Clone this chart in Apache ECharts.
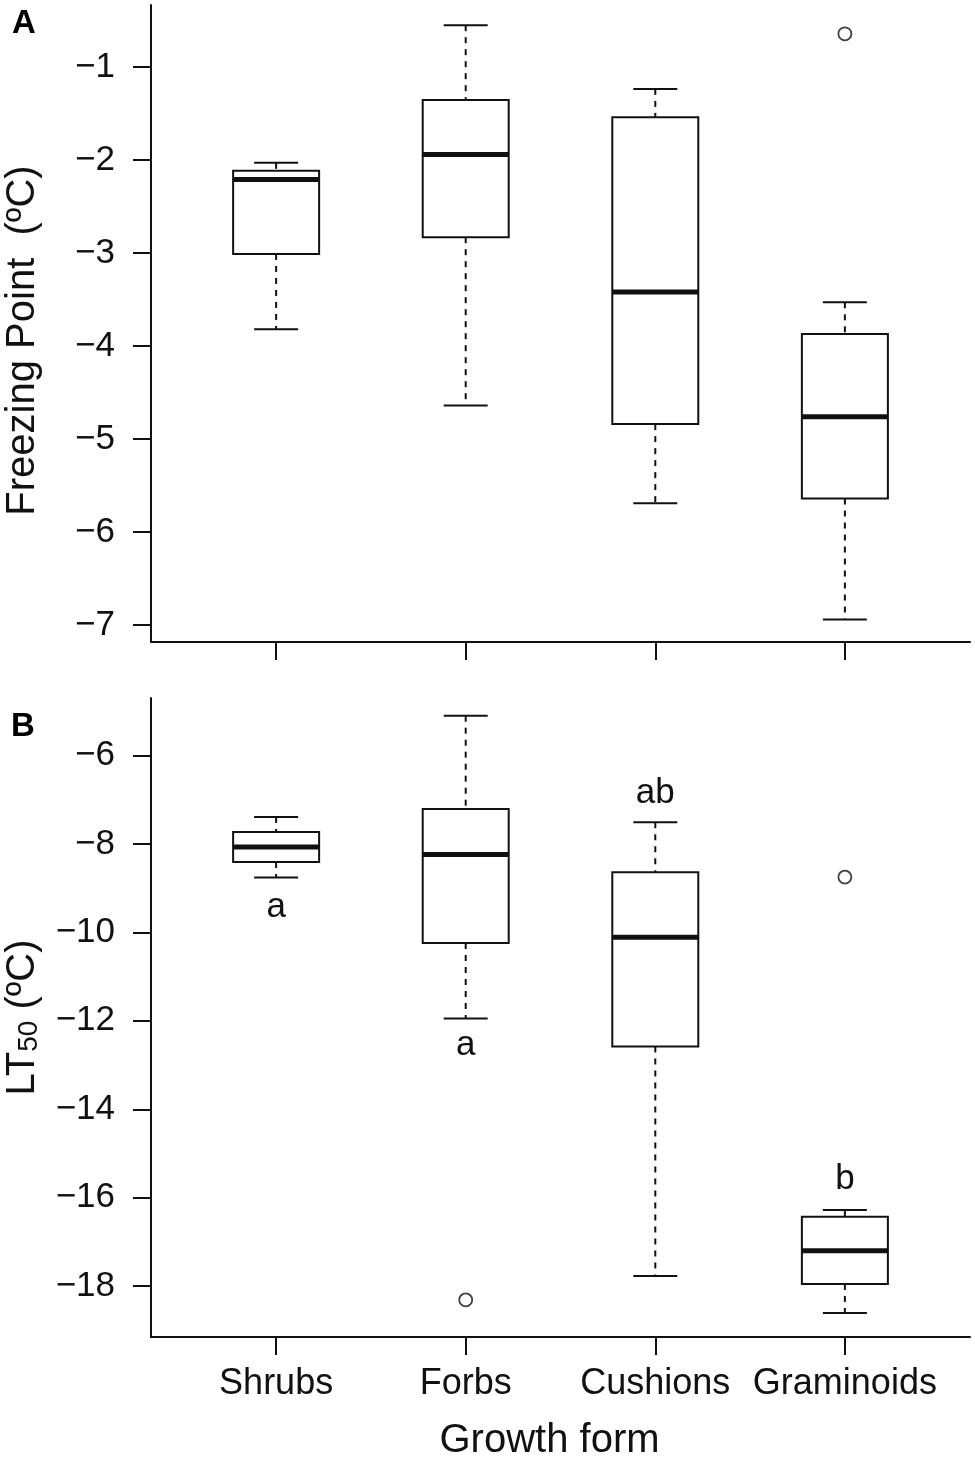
<!DOCTYPE html>
<html><head><meta charset="utf-8">
<script src="https://cdn.jsdelivr.net/npm/echarts@6/dist/echarts.min.js"></script>
<style>html,body{margin:0;padding:0;background:#fff}#c{width:975px;height:1464px}</style>
</head><body><div id="c"></div>
<script>
const categories = ['Shrubs', 'Forbs', 'Cushions', 'Graminoids'];

// Panel A: Freezing point (ºC) — boxplot statistics per growth form
const fpMin    = [-3.82, -4.64, -5.69, -6.94];
const fpQ1     = [-3.01, -2.83, -4.84, -5.64];
const fpMedian = [-2.21, -1.94, -3.42, -4.76];
const fpQ3     = [-2.115, -1.355, -1.54, -3.87];
const fpMax    = [-2.03, -0.55, -1.235, -3.53];
const fpOutliers = [[4, -0.643]];            // [group number, value]
const fpTicks = [-7, -6, -5, -4, -3, -2, -1];

// Panel B: LT50 (ºC)
const ltMin    = [-8.76, -11.95, -17.77, -18.61];
const ltQ1     = [-8.41, -10.24, -12.58, -17.95];
const ltMedian = [-8.07, -8.24, -10.11, -17.20];
const ltQ3     = [-7.73, -7.21, -8.64, -16.43];
const ltMax    = [-7.39, -5.10, -7.51, -16.28];
const ltOutliers = [[2, -18.31], [4, -8.75]]; // [group number, value]
const ltTicks = [-18, -16, -14, -12, -10, -8, -6];

// significance letters (panel B) and the value they are written at
const sigLetters = ['a', 'a', 'ab', 'b'];
const sigLetterY = [-9.43, -12.56, -6.85, -15.58];

const groupPos = [1, 2, 3, 4];

const FONT = '"Liberation Sans", Arial, Helvetica, sans-serif';
const INK = '#111';

function boxData(mn, q1, md, q3, mx) {
  return categories.map((c, i) => [groupPos[i], mn[i], q1[i], md[i], q3[i], mx[i]]);
}

function renderBox(params, api) {
  const x = api.value(0);
  const pMin = api.coord([x, api.value(1)]);
  const pQ1 = api.coord([x, api.value(2)]);
  const pMed = api.coord([x, api.value(3)]);
  const pQ3 = api.coord([x, api.value(4)]);
  const pMax = api.coord([x, api.value(5)]);
  const cx = pMed[0];
  const hw = 43, cw = 22;
  const dashed = { stroke: INK, lineWidth: 2, lineDash: [6, 6], fill: null };
  const solid = { stroke: INK, lineWidth: 2, fill: null };
  return {
    type: 'group',
    children: [
      { type: 'line', shape: { x1: cx, y1: pMax[1], x2: cx, y2: pQ3[1] }, style: dashed },
      { type: 'line', shape: { x1: cx, y1: pQ1[1], x2: cx, y2: pMin[1] }, style: dashed },
      { type: 'line', shape: { x1: cx - cw, y1: pMax[1], x2: cx + cw, y2: pMax[1] }, style: solid },
      { type: 'line', shape: { x1: cx - cw, y1: pMin[1], x2: cx + cw, y2: pMin[1] }, style: solid },
      { type: 'rect', shape: { x: cx - hw, y: pQ3[1], width: 2 * hw, height: pQ1[1] - pQ3[1] },
        style: { fill: '#fff', stroke: INK, lineWidth: 2 } },
      { type: 'line', shape: { x1: cx - hw, y1: pMed[1], x2: cx + hw, y2: pMed[1] },
        style: { stroke: INK, lineWidth: 5, fill: null } }
    ]
  };
}

function renderLetter(params, api) {
  const p = api.coord([api.value(0), api.value(1)]);
  return {
    type: 'text', x: p[0], y: p[1],
    style: {
      text: sigLetters[params.dataIndex], fill: INK,
      font: '35px ' + FONT, align: 'center', verticalAlign: 'middle'
    }
  };
}

const minus = v => String(v).replace('-', '\u2212');

function makeX(gridIndex, showLabels) {
  return {
    type: 'value', gridIndex: gridIndex, min: 0.34, max: 4.66,
    axisLine: { show: true, onZero: false, lineStyle: { color: INK, width: 2 } },
    axisTick: { show: true, length: 18, customValues: groupPos, lineStyle: { color: INK, width: 2 } },
    axisLabel: {
      show: showLabels, customValues: groupPos,
      formatter: v => categories[groupPos.indexOf(Math.round(v))],
      fontSize: 36, color: INK, fontFamily: FONT, margin: 29
    },
    splitLine: { show: false },
    name: showLabels ? 'Growth form' : '',
    nameLocation: 'middle', nameGap: 84,
    nameTextStyle: { fontSize: 40, color: INK, fontFamily: FONT, padding: [0, 22, 0, 0] }
  };
}

function makeY(gridIndex, min, max, ticks, name, nameGap, pad, rich) {
  const ax = {
    type: 'value', gridIndex: gridIndex, min: min, max: max,
    axisLine: { show: true, onZero: false, lineStyle: { color: INK, width: 2 } },
    axisTick: { show: true, length: 18, customValues: ticks, lineStyle: { color: INK, width: 2 } },
    axisLabel: { customValues: ticks, formatter: minus, fontSize: 35, color: INK, fontFamily: FONT, margin: 36 },
    splitLine: { show: false },
    name: name, nameLocation: 'middle', nameGap: nameGap,
    nameTextStyle: { fontSize: 40, color: INK, fontFamily: FONT, padding: pad }
  };
  if (rich) ax.nameTextStyle.rich = rich;
  return ax;
}

const option = {
  animation: false,
  backgroundColor: '#fff',
  title: [
    { text: 'A', left: 7, top: 2, textStyle: { fontSize: 33, fontWeight: 'bold', color: '#000', fontFamily: FONT } },
    { text: 'B', left: 6, top: 705, textStyle: { fontSize: 33, fontWeight: 'bold', color: '#000', fontFamily: FONT } }
  ],
  grid: [
    { left: 151, right: 5, top: 5, height: 637, outerBoundsMode: 'none', containLabel: false },
    { left: 151, right: 5, top: 698, height: 639, outerBoundsMode: 'none', containLabel: false }
  ],
  xAxis: [makeX(0, false), makeX(1, true)],
  yAxis: [
    makeY(0, -7.183, -0.333, fpTicks, 'Freezing Point  (ºC)', 108, [0, 34, 0, 0], null),
    makeY(1, -19.15, -4.70, ltTicks, '{a|LT}{s|50}{a| (ºC)}', 108, [0, 0, 0, 0], {
      a: { fontSize: 40, lineHeight: 40, color: INK, fontFamily: FONT, verticalAlign: 'middle' },
      s: { fontSize: 28, lineHeight: 14, color: INK, fontFamily: FONT, verticalAlign: 'bottom' }
    })
  ],
  series: [
    {
      type: 'custom', xAxisIndex: 0, yAxisIndex: 0, renderItem: renderBox,
      encode: { x: 0, y: [1, 2, 3, 4, 5] },
      data: boxData(fpMin, fpQ1, fpMedian, fpQ3, fpMax), z: 2
    },
    {
      type: 'custom', xAxisIndex: 1, yAxisIndex: 1, renderItem: renderBox,
      encode: { x: 0, y: [1, 2, 3, 4, 5] },
      data: boxData(ltMin, ltQ1, ltMedian, ltQ3, ltMax), z: 2
    },
    {
      type: 'scatter', xAxisIndex: 0, yAxisIndex: 0, data: fpOutliers,
      symbol: 'circle', symbolSize: 13, z: 3,
      itemStyle: { color: '#fff', borderColor: INK, borderWidth: 1.8 }
    },
    {
      type: 'scatter', xAxisIndex: 1, yAxisIndex: 1, data: ltOutliers,
      symbol: 'circle', symbolSize: 13, z: 3,
      itemStyle: { color: '#fff', borderColor: INK, borderWidth: 1.8 }
    },
    {
      type: 'custom', xAxisIndex: 1, yAxisIndex: 1, renderItem: renderLetter,
      encode: { x: 0, y: 1 },
      data: categories.map((c, i) => [groupPos[i], sigLetterY[i]]), z: 4
    }
  ]
};

const chart = echarts.init(document.getElementById('c'), null, { renderer: 'canvas' });
chart.setOption(option);
</script>
</body></html>
